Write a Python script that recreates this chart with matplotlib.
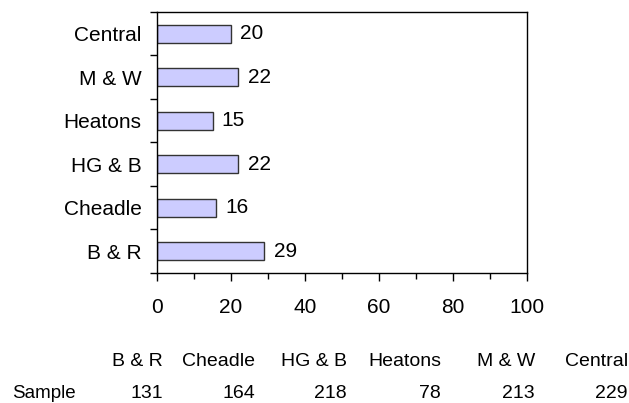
import matplotlib
matplotlib.use("Agg")
import matplotlib.pyplot as plt
import numpy as np

plt.rcParams['font.family'] = ['Liberation Sans', 'DejaVu Sans']

areas = ["B & R", "Cheadle", "HG & B", "Heatons", "M & W", "Central"]
values = [29, 16, 22, 15, 22, 20]
samples = [131, 164, 218, 78, 213, 229]
x_ticks = [0, 20, 40, 60, 80, 100]

fig = plt.figure(figsize=(6.29, 4.03), dpi=100)
ax = fig.add_axes([157 / 629, 1 - 273 / 403, 370 / 629, 261 / 403])

pos = np.arange(len(areas))
ax.barh(pos, values, height=0.42, color='#ccccff', edgecolor='#333333', linewidth=1)
for p, v in zip(pos, values):
    ax.text(v + 2.5, p, str(v), va='center', ha='left', fontsize=15)

ax.set_xlim(0, 100)
ax.set_ylim(-0.5, len(areas) - 0.5)

# category boundaries get the tick marks, names sit between them
ax.set_yticks(np.arange(-0.5, len(areas), 1.0))
ax.set_yticklabels([])
ax.set_yticks(pos, minor=True)
ax.set_yticklabels(areas, minor=True, fontsize=15)
ax.tick_params(axis='y', which='major', length=5, width=1, direction='out')
ax.tick_params(axis='y', which='minor', length=0, pad=11)

ax.set_xticks(x_ticks)
ax.set_xticklabels([str(t) for t in x_ticks], fontsize=15)
ax.set_xticks(np.arange(10, 100, 20), minor=True)
ax.tick_params(axis='x', which='major', length=6, width=1, direction='out', pad=12)
ax.tick_params(axis='x', which='minor', length=4, width=1, direction='out')

for s in ax.spines.values():
    s.set_linewidth(1)
    s.set_color('black')

# sample size table under the chart
col_right = [163, 255, 347, 441, 535, 628]
fig.text(12 / 629, 1 - 393 / 403, "Sample", ha='left', va='center', fontsize=13.5)
for xr, name, n in zip(col_right, areas, samples):
    fig.text(xr / 629, 1 - 361 / 403, name, ha='right', va='center', fontsize=14)
    fig.text(xr / 629, 1 - 393 / 403, str(n), ha='right', va='center', fontsize=14)

fig.savefig("out.png", dpi=100)
